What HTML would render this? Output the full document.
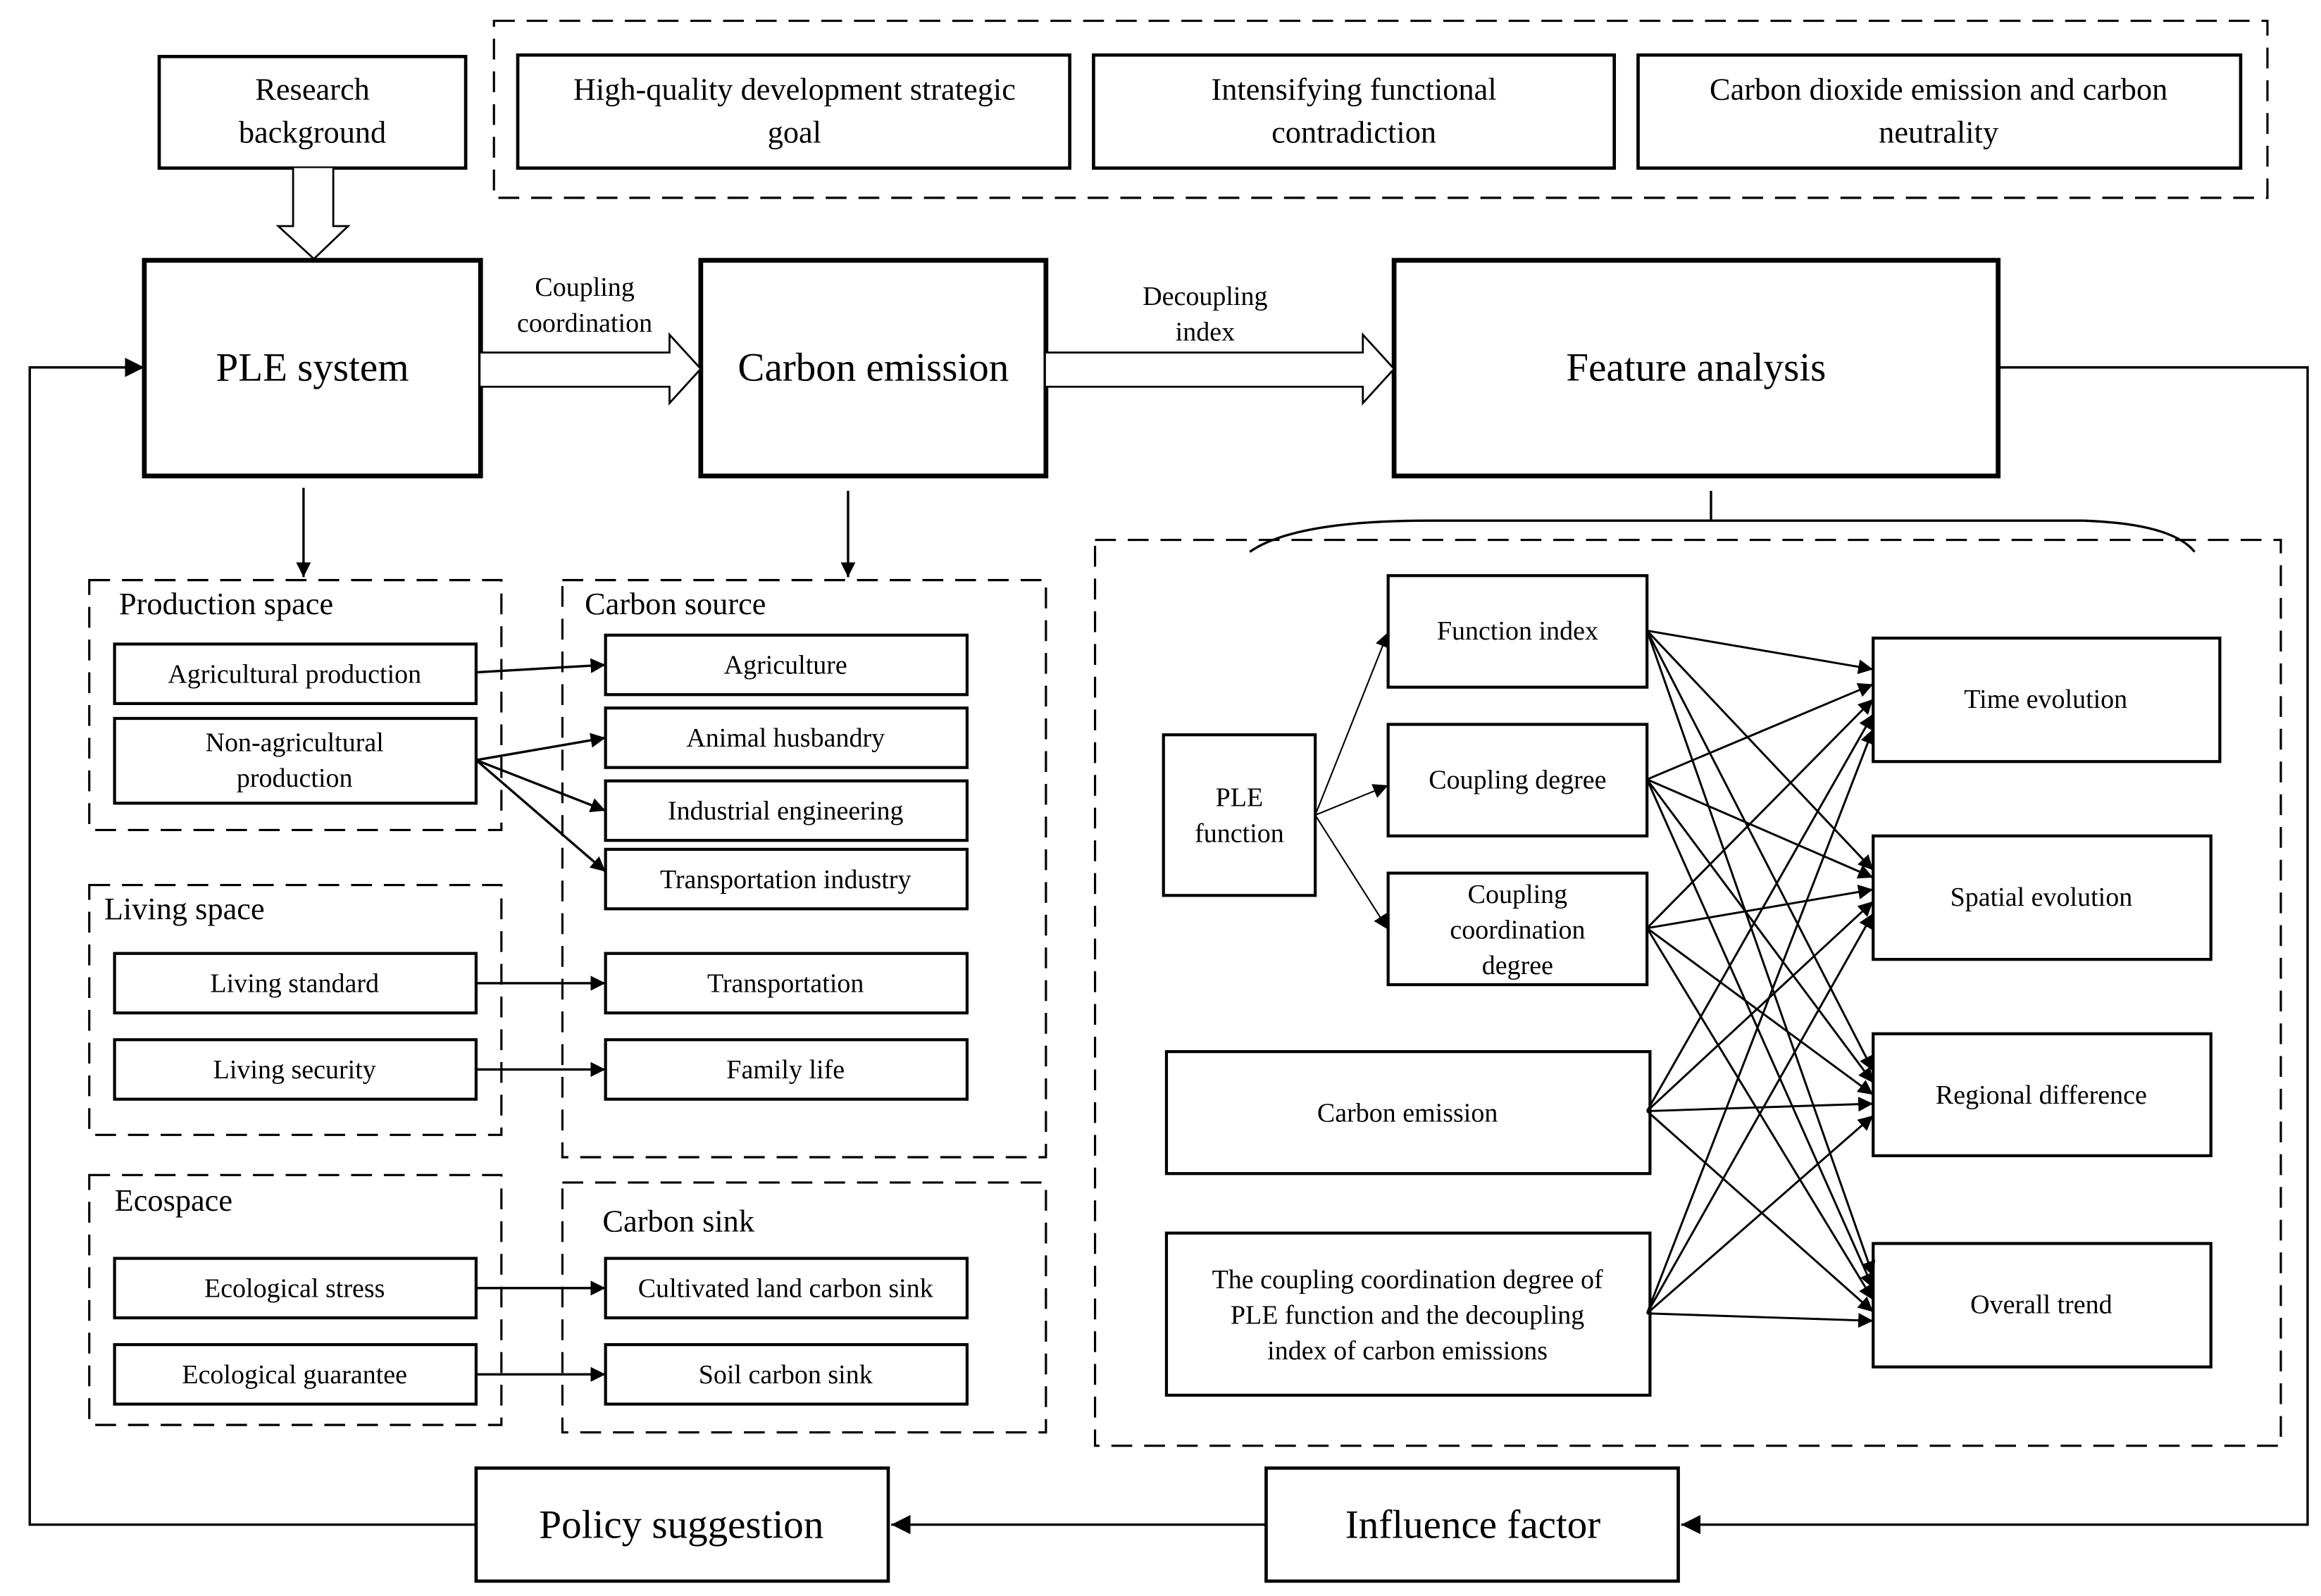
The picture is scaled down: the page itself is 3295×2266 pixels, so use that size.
<!DOCTYPE html>
<html><head><meta charset="utf-8"><style>
html,body{margin:0;padding:0;background:#fff;}
svg{display:block;}
text{font-family:"Liberation Serif",serif;fill:#000;text-anchor:middle;}
</style></head><body>
<svg width="3295" height="2266" viewBox="0 0 1560 1073" preserveAspectRatio="none" xmlns="http://www.w3.org/2000/svg">
<defs>
<marker id="a" viewBox="0 0 10 10" refX="10" refY="5" markerWidth="10" markerHeight="10" markerUnits="userSpaceOnUse" orient="auto"><path d="M0,0 L10,5 L0,10 z" fill="#000"/></marker>
<marker id="b" viewBox="0 0 10 10" refX="10" refY="5" markerWidth="13" markerHeight="13" markerUnits="userSpaceOnUse" orient="auto"><path d="M0,0 L10,5 L0,10 z" fill="#000"/></marker>
</defs>
<g fill="none" stroke="#000">
<!-- dashed groups -->
<g stroke-dasharray="14,8" stroke-width="1.5">
<rect x="332" y="14" width="1192" height="119"/>
<rect x="60" y="390" width="277" height="168"/>
<rect x="60" y="595" width="277" height="168"/>
<rect x="60" y="790" width="277" height="168"/>
<rect x="378" y="390" width="325" height="388"/>
<rect x="378" y="795" width="325" height="168"/>
<rect x="736" y="363" width="797" height="609"/>
</g>
<g stroke-width="2.2">
<rect x="107" y="38" width="206" height="75"/>
<rect x="348" y="37" width="371" height="76"/>
<rect x="735" y="37" width="350" height="76"/>
<rect x="1101" y="37" width="405" height="76"/>
<rect x="320" y="987" width="277" height="76"/>
<rect x="851" y="987" width="277" height="76"/>
</g>
<g stroke-width="3.2">
<rect x="97" y="175" width="226" height="145"/>
<rect x="471" y="175" width="232" height="145"/>
<rect x="937" y="175" width="406" height="145"/>
</g>
<g stroke-width="2">
<rect x="77" y="433" width="243" height="40"/>
<rect x="77" y="483" width="243" height="57"/>
<rect x="77" y="641" width="243" height="40"/>
<rect x="77" y="699" width="243" height="40"/>
<rect x="77" y="846" width="243" height="40"/>
<rect x="77" y="904" width="243" height="40"/>
<rect x="407" y="427" width="243" height="40"/>
<rect x="407" y="476" width="243" height="40"/>
<rect x="407" y="525" width="243" height="40"/>
<rect x="407" y="571" width="243" height="40"/>
<rect x="407" y="641" width="243" height="40"/>
<rect x="407" y="699" width="243" height="40"/>
<rect x="407" y="846" width="243" height="40"/>
<rect x="407" y="904" width="243" height="40"/>
<rect x="782" y="494" width="102" height="108"/>
<rect x="933" y="387" width="174" height="75"/>
<rect x="933" y="487" width="174" height="75"/>
<rect x="933" y="587" width="174" height="75"/>
<rect x="784" y="707" width="325" height="82"/>
<rect x="784" y="829" width="325" height="109"/>
<rect x="1259" y="429" width="233" height="83"/>
<rect x="1259" y="562" width="227" height="83"/>
<rect x="1259" y="695" width="227" height="82"/>
<rect x="1259" y="836" width="227" height="83"/>
</g>
<!-- hollow arrows -->
<g stroke-width="1.3" fill="#fff">
<path d="M197,113 L197,152 L187,152 L211,174 L234,152 L224,152 L224,113"/>
<path d="M323,237 L450,237 L450,225 L471,248 L450,271 L450,260 L323,260"/>
<path d="M703,237 L916,237 L916,225 L937,248 L916,271 L916,260 L703,260"/>
</g>
<!-- simple arrows -->
<g stroke-width="1.6">
<line x1="204" y1="328" x2="204" y2="388" marker-end="url(#a)"/>
<line x1="570" y1="330" x2="570" y2="388" marker-end="url(#a)"/>
<line x1="320" y1="452" x2="407" y2="447" marker-end="url(#a)"/>
<line x1="320" y1="511" x2="407" y2="496" marker-end="url(#a)"/>
<line x1="320" y1="511" x2="407" y2="545" marker-end="url(#a)"/>
<line x1="320" y1="511" x2="407" y2="586" marker-end="url(#a)"/>
<line x1="320" y1="661" x2="407" y2="661" marker-end="url(#a)"/>
<line x1="320" y1="719" x2="407" y2="719" marker-end="url(#a)"/>
<line x1="320" y1="866" x2="407" y2="866" marker-end="url(#a)"/>
<line x1="320" y1="924" x2="407" y2="924" marker-end="url(#a)"/>
<polyline points="1343,247 1551,247 1551,1025 1130,1025" marker-end="url(#b)"/>
<line x1="851" y1="1025" x2="599" y2="1025" marker-end="url(#b)"/>
<polyline points="320,1025 20,1025 20,247 97,247" marker-end="url(#b)"/>
<line x1="1150" y1="330" x2="1150" y2="350"/>
<path d="M840,371 Q870,350 960,350 L1400,350 Q1460,352 1475,371"/>
</g>
<g stroke-width="1">
<line x1="884" y1="548" x2="933" y2="425" marker-end="url(#a)"/>
<line x1="884" y1="548" x2="933" y2="528" marker-end="url(#a)"/>
<line x1="884" y1="548" x2="933" y2="625" marker-end="url(#a)"/>
</g>
<g stroke-width="1.4">
<!-- sources y: 424,524,624,747,883 ; targets -->
<line x1="1107" y1="424" x2="1259" y2="450" marker-end="url(#a)"/>
<line x1="1107" y1="424" x2="1259" y2="585" marker-end="url(#a)"/>
<line x1="1107" y1="424" x2="1259" y2="720" marker-end="url(#a)"/>
<line x1="1107" y1="424" x2="1259" y2="858" marker-end="url(#a)"/>
<line x1="1107" y1="524" x2="1259" y2="460" marker-end="url(#a)"/>
<line x1="1107" y1="524" x2="1259" y2="590" marker-end="url(#a)"/>
<line x1="1107" y1="524" x2="1259" y2="728" marker-end="url(#a)"/>
<line x1="1107" y1="524" x2="1259" y2="866" marker-end="url(#a)"/>
<line x1="1107" y1="624" x2="1259" y2="470" marker-end="url(#a)"/>
<line x1="1107" y1="624" x2="1259" y2="598" marker-end="url(#a)"/>
<line x1="1107" y1="624" x2="1259" y2="736" marker-end="url(#a)"/>
<line x1="1107" y1="624" x2="1259" y2="874" marker-end="url(#a)"/>
<line x1="1107" y1="747" x2="1259" y2="480" marker-end="url(#a)"/>
<line x1="1107" y1="747" x2="1259" y2="606" marker-end="url(#a)"/>
<line x1="1107" y1="747" x2="1259" y2="742" marker-end="url(#a)"/>
<line x1="1107" y1="747" x2="1259" y2="882" marker-end="url(#a)"/>
<line x1="1107" y1="883" x2="1259" y2="490" marker-end="url(#a)"/>
<line x1="1107" y1="883" x2="1259" y2="614" marker-end="url(#a)"/>
<line x1="1107" y1="883" x2="1259" y2="750" marker-end="url(#a)"/>
<line x1="1107" y1="883" x2="1259" y2="888" marker-end="url(#a)"/>
</g>
</g>
<!-- text -->
<g font-size="21">
<text x="210" y="67">Research</text><text x="210" y="96">background</text>
<text x="534" y="67">High-quality development strategic</text><text x="534" y="96">goal</text>
<text x="910" y="67">Intensifying functional</text><text x="910" y="96">contradiction</text>
<text x="1303" y="67">Carbon dioxide emission and carbon</text><text x="1303" y="96">neutrality</text>
</g>
<g font-size="27">
<text x="210" y="256">PLE system</text>
<text x="587" y="256">Carbon emission</text>
<text x="1140" y="256">Feature analysis</text>
<text x="458" y="1034">Policy suggestion</text>
<text x="990" y="1034">Influence factor</text>
</g>
<g font-size="18">
<text x="393" y="199">Coupling</text><text x="393" y="223">coordination</text>
<text x="810" y="205">Decoupling</text><text x="810" y="229">index</text>
</g>
<g font-size="21" style="text-anchor:start">
<text x="80" y="413" style="text-anchor:start">Production space</text>
<text x="70" y="618" style="text-anchor:start">Living space</text>
<text x="77" y="814" style="text-anchor:start">Ecospace</text>
<text x="393" y="413" style="text-anchor:start">Carbon source</text>
<text x="405" y="828" style="text-anchor:start">Carbon sink</text>
</g>
<g font-size="18">
<text x="198" y="459">Agricultural production</text>
<text x="198" y="505">Non-agricultural</text><text x="198" y="529">production</text>
<text x="198" y="667">Living standard</text>
<text x="198" y="725">Living security</text>
<text x="198" y="872">Ecological stress</text>
<text x="198" y="930">Ecological guarantee</text>
<text x="528" y="453">Agriculture</text>
<text x="528" y="502">Animal husbandry</text>
<text x="528" y="551">Industrial engineering</text>
<text x="528" y="597">Transportation industry</text>
<text x="528" y="667">Transportation</text>
<text x="528" y="725">Family life</text>
<text x="528" y="872">Cultivated land carbon sink</text>
<text x="528" y="930">Soil carbon sink</text>
<text x="833" y="542">PLE</text><text x="833" y="566">function</text>
<text x="1020" y="430">Function index</text>
<text x="1020" y="530">Coupling degree</text>
<text x="1020" y="607">Coupling</text><text x="1020" y="631">coordination</text><text x="1020" y="655">degree</text>
<text x="946" y="754">Carbon emission</text>
<text x="946" y="866">The coupling coordination degree of</text>
<text x="946" y="890">PLE function and the decoupling</text>
<text x="946" y="914">index of carbon emissions</text>
<text x="1375" y="476">Time evolution</text>
<text x="1372" y="609">Spatial evolution</text>
<text x="1372" y="742">Regional difference</text>
<text x="1372" y="883">Overall trend</text>
</g>
</svg>
</body></html>
